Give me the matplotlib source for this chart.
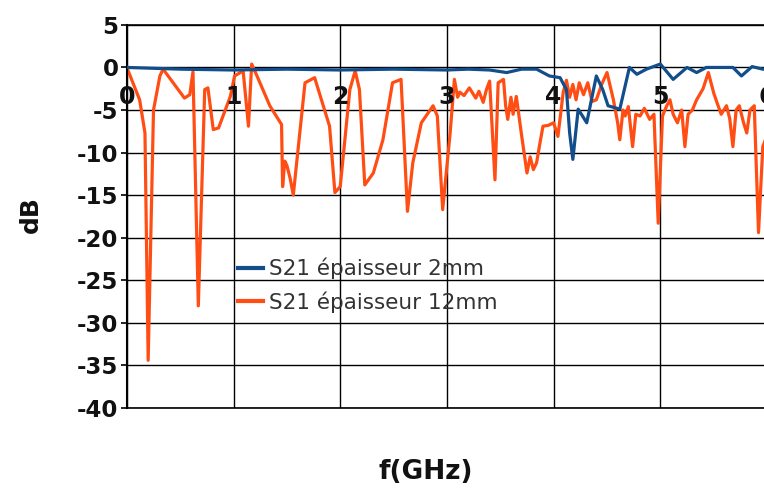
import matplotlib.pyplot as plt

# donnees
f_12mm = [0.0, 0.12, 0.17, 0.20, 0.25, 0.31, 0.34, 0.54, 0.59, 0.62, 0.67, 0.73, 0.76,
          0.81, 0.86, 0.97, 1.01, 1.09, 1.14, 1.17, 1.22, 1.34, 1.45, 1.46, 1.48, 1.50,
          1.53, 1.56, 1.67, 1.76, 1.90, 1.95, 2.00, 2.09, 2.14, 2.18, 2.23, 2.31, 2.40,
          2.49, 2.57, 2.63, 2.68, 2.76, 2.87, 2.91, 2.96, 3.03, 3.07, 3.10, 3.12, 3.16,
          3.21, 3.27, 3.30, 3.34, 3.37, 3.40, 3.45, 3.48, 3.53, 3.55, 3.57, 3.60, 3.62,
          3.65, 3.70, 3.75, 3.78, 3.81, 3.84, 3.87, 3.90, 3.95, 4.00, 4.04, 4.09, 4.12,
          4.15, 4.18, 4.21, 4.24, 4.28, 4.32, 4.36, 4.40, 4.45, 4.50, 4.56, 4.60, 4.62,
          4.65, 4.67, 4.70, 4.74, 4.77, 4.81, 4.85, 4.90, 4.94, 4.98, 5.02, 5.06, 5.09,
          5.12, 5.16, 5.20, 5.23, 5.26, 5.30, 5.34, 5.40, 5.45, 5.50, 5.53, 5.57, 5.62,
          5.65, 5.68, 5.71, 5.74, 5.78, 5.81, 5.84, 5.88, 5.92, 5.96, 6.0]
s21_12mm = [0.0, -3.8, -7.7, -34.4, -5.0, -1.0, -0.2, -3.6, -3.2, -0.5, -28.0, -2.6, -2.4,
            -7.3, -7.1, -3.4, -1.0, -0.4, -6.9, 0.4, -1.0, -4.5, -6.7, -14.0, -11.0, -11.5,
            -13.0, -15.0, -1.8, -1.2, -6.9, -14.7, -14.0, -2.6, -0.4, -2.6, -13.8, -12.4,
            -8.5, -1.8, -1.4, -16.9, -11.2, -6.5, -4.5, -5.7, -16.7, -7.7, -1.4, -3.5,
            -2.9, -3.3, -2.4, -3.6, -2.8, -4.1, -2.6, -1.6, -13.2, -1.8, -1.4, -4.5,
            -6.1, -3.5, -5.5, -3.4, -8.0, -12.4, -10.5, -12.0, -11.2, -9.0, -6.9, -6.8,
            -6.5, -8.1, -2.9, -1.5, -3.5, -2.0, -3.8, -1.8, -3.2, -1.8, -4.0, -3.8, -2.0,
            -0.6, -3.8, -6.5, -8.5, -5.0, -5.7, -4.6, -9.3, -5.5, -5.7, -4.8, -6.1, -5.5,
            -18.3, -5.7, -4.5, -3.8, -5.5, -6.5, -5.0, -9.3, -5.5, -5.0, -3.8, -2.5, -0.6,
            -3.0, -4.1, -5.5, -4.5, -6.0, -9.3, -5.0, -4.5, -6.5, -7.7, -5.0, -4.5, -19.4,
            -9.3, -8.0]

f_2mm = [0.0, 0.5, 1.0, 1.5, 2.0, 2.5, 3.0, 3.2, 3.4, 3.56, 3.7, 3.84, 3.96, 4.06, 4.12,
         4.15, 4.18, 4.23, 4.31, 4.40, 4.46, 4.51, 4.62, 4.71, 4.78, 4.87, 5.0, 5.12, 5.25,
         5.34, 5.43, 5.68, 5.76, 5.86, 5.96, 6.0]
s21_2mm = [0.0, -0.2, -0.3, -0.2, -0.3, -0.2, -0.3, -0.2, -0.3, -0.6, -0.2, -0.2, -1.0,
           -1.2, -2.6, -7.7, -10.8, -4.9, -6.5, -1.0, -2.6, -4.5, -4.9, 0.0, -0.8, -0.2, 0.4,
           -1.4, 0.0, -0.6, 0.0, 0.0, -1.0, 0.1, -0.2, -0.2]

x_ticks = [0, 1, 2, 3, 4, 5, 6]
y_ticks = [5, 0, -5, -10, -15, -20, -25, -30, -35, -40]

plt.rcParams['font.family'] = ['DejaVu Sans']
plt.rcParams['axes.unicode_minus'] = False

fig = plt.figure(figsize=(7.64, 4.88), dpi=100)
ax = fig.add_axes([0.166, 0.164, 0.838, 0.785])

ax.plot(f_2mm, s21_2mm, color='#124E8C', lw=2.3, label='S21 épaisseur 2mm', zorder=3)
ax.plot(f_12mm, s21_12mm, color='#FF4D14', lw=2.3, label='S21 épaisseur 12mm', zorder=2)

ax.set_xlim(0, 6)
ax.set_ylim(-40, 5)
ax.set_xticks(x_ticks)
ax.set_yticks(y_ticks)
ax.set_xticklabels([])
ax.tick_params(axis='x', length=0)
ax.tick_params(axis='y', length=4, width=1.2, labelsize=16.5, pad=2, labelcolor='#111111')
for lab in ax.get_yticklabels():
    lab.set_fontweight('bold')
ax.grid(True, color='black', lw=1.0, zorder=0)
ax.set_axisbelow(True)
ax.spines['right'].set_visible(False)
ax.spines['left'].set_linewidth(1.5)
ax.spines['bottom'].set_linewidth(1.2)
ax.spines['top'].set_linewidth(1.2)

# etiquettes x sur la ligne 0
for t in x_ticks:
    ax.text(t, -2.1, str(t), ha='center', va='top', fontsize=17, fontweight='bold',
            color='#111111', clip_on=False)

fig.text(0.040, 0.56, 'dB', rotation=90, ha='center', va='center', fontsize=18,
         fontweight='bold', color='#111111')
fig.text(0.557, 0.033, 'f(GHz)', ha='center', va='center', fontsize=19,
         fontweight='bold', color='#111111')

leg = ax.legend(loc='center left', bbox_to_anchor=(0.16, 0.32), frameon=False,
                fontsize=15.5, handlelength=1.15, handletextpad=0.3, labelspacing=0.55,
                labelcolor='#333333', borderaxespad=0)
for line in leg.get_lines():
    line.set_linewidth(3)

fig.savefig('out.png', dpi=100)
